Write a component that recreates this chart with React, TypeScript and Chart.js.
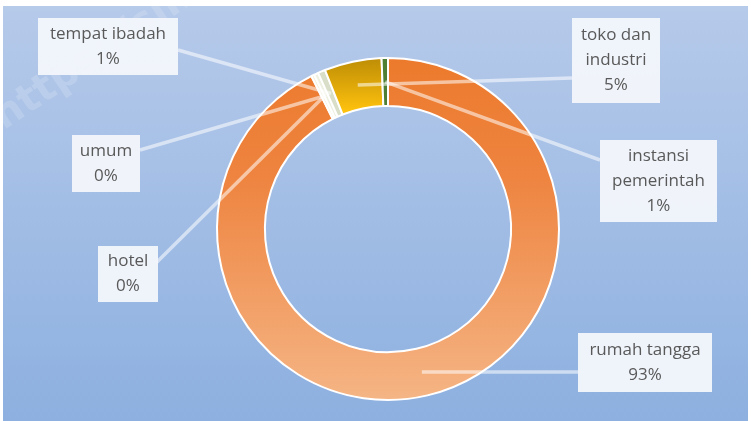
import React, { useEffect, useRef } from 'react';
import { Chart, registerables } from 'chart.js';

Chart.register(...registerables);

// ---- data ----
const categories = ['rumah tangga', 'hotel', 'umum', 'tempat ibadah', 'toko dan industri', 'instansi pemerintah'];
const values = [92.6, 0.3, 0.4, 0.7, 5.4, 0.6];
const watermarkText = 'https://simalu';

// ---- layout / style ----
const W = 751;
const H = 421;
const boxes = [
  { x: 578, y: 333, w: 134, h: 59, ax: 578, ay: 372 },
  { x: 98, y: 246, w: 60, h: 56, ax: 156, ay: 263 },
  { x: 72, y: 135, w: 68, h: 57, ax: 140, ay: 150 },
  { x: 38, y: 18, w: 140, h: 57, ax: 178, ay: 50 },
  { x: 572, y: 18, w: 88, h: 85, ax: 572, ay: 78 },
  { x: 600, y: 140, w: 117, h: 82, ax: 600, ay: 160 },
];
const FONT = '17px "Open Sans", "DejaVu Sans", sans-serif';

function wrap(ctx: CanvasRenderingContext2D, text: string, maxW: number): string[] {
  const words = text.split(' ');
  const out: string[] = [];
  let cur = '';
  for (const w of words) {
    const t = cur ? cur + ' ' + w : w;
    if (cur && ctx.measureText(t).width > maxW) {
      out.push(cur);
      cur = w;
    } else cur = t;
  }
  if (cur) out.push(cur);
  return out;
}

const bgPlugin = {
  id: 'bg',
  beforeDraw(chart: any) {
    const ctx = chart.ctx as CanvasRenderingContext2D;
    ctx.save();
    ctx.fillStyle = '#ffffff';
    ctx.fillRect(0, 0, W, H);
    const g = ctx.createLinearGradient(0, 6, 0, H);
    g.addColorStop(0, '#B6CAEA');
    g.addColorStop(1, '#8DB0E0');
    ctx.fillStyle = g;
    ctx.fillRect(3, 6, 745, H - 6);
    // faint watermark
    ctx.translate(-2, 122);
    ctx.rotate(-34 * Math.PI / 180);
    ctx.font = 'bold 40px "DejaVu Sans", sans-serif';
    ctx.fillStyle = 'rgba(255,255,255,0.16)';
    ctx.textBaseline = 'middle';
    ctx.fillText(watermarkText, 0, 0);
    ctx.restore();
  },
};

const labelPlugin = {
  id: 'labels',
  afterDatasetsDraw(chart: any) {
    const ctx = chart.ctx as CanvasRenderingContext2D;
    const meta = chart.getDatasetMeta(0);
    const total = values.reduce((a, b) => a + b, 0);
    ctx.save();
    // leader lines
    meta.data.forEach((arc: any, i: number) => {
      const p = arc.getCenterPoint();
      const b = boxes[i];
      ctx.strokeStyle = 'rgba(255,255,255,0.55)';
      ctx.lineWidth = 3.5;
      ctx.beginPath();
      ctx.moveTo(b.ax, b.ay);
      ctx.lineTo(p.x, p.y);
      ctx.stroke();
    });
    // boxes
    ctx.font = FONT;
    ctx.textAlign = 'center';
    ctx.textBaseline = 'middle';
    categories.forEach((name, i) => {
      const b = boxes[i];
      ctx.fillStyle = 'rgba(243,246,251,0.96)';
      ctx.fillRect(b.x, b.y, b.w, b.h);
      const lines = wrap(ctx, name, b.w - 6);
      lines.push(Math.round((values[i] / total) * 100) + '%');
      const lh = 25;
      const startY = b.y + b.h / 2 - ((lines.length - 1) * lh) / 2;
      ctx.fillStyle = '#595959';
      lines.forEach((l, k) => ctx.fillText(l, b.x + b.w / 2, startY + k * lh));
    });
    ctx.restore();
  },
};

function sliceColor(c: any) {
  const chart = c.chart;
  const area = chart.chartArea;
  const i = c.dataIndex;
  if (!area) return '#ED7D31';
  const ctx = chart.ctx as CanvasRenderingContext2D;
  if (i === 0) {
    const g = ctx.createLinearGradient(0, area.top, 0, area.bottom);
    g.addColorStop(0, '#EC7A2C');
    g.addColorStop(0.35, '#EE8440');
    g.addColorStop(1, '#F5B585');
    return g;
  }
  if (i === 4) {
    const g = ctx.createLinearGradient(0, area.top, 0, area.top + 55);
    g.addColorStop(0, '#BC8C05');
    g.addColorStop(1, '#FFC20E');
    return g;
  }
  if (i === 5) return '#4F7E35';
  if (i === 3) return '#D9DEC8';
  if (i === 2) return '#EEF0E0';
  return '#F4F1DC';
}

export default function App() {
  const ref = useRef<HTMLCanvasElement>(null);
  useEffect(() => {
    const canvas = ref.current!;
    const chart = new Chart(canvas, {
      type: 'doughnut',
      data: {
        labels: categories,
        datasets: [
          {
            data: values,
            backgroundColor: sliceColor as any,
            borderColor: '#ffffff',
            borderWidth: 2,
          },
        ],
      },
      options: {
        responsive: false,
        animation: false,
        cutout: '72%',
        layout: { padding: { left: 216, right: 191, top: 57, bottom: 20 } },
        plugins: { legend: { display: false }, tooltip: { enabled: false } },
      },
      plugins: [bgPlugin, labelPlugin],
    } as any);
    return () => chart.destroy();
  }, []);
  return (
    <div style={{ position: 'fixed', left: 0, top: 0, width: W, height: H }}>
      <canvas ref={ref} width={W} height={H} style={{ width: W, height: H, display: 'block' }} />
    </div>
  );
}
